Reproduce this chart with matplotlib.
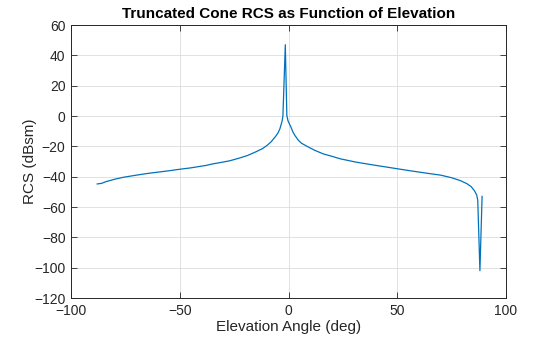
import numpy as np
import matplotlib
matplotlib.use("Agg")
import matplotlib.pyplot as plt

# elevation angle (deg) and RCS (dBsm)
elev = [-88, -86, -84, -80, -76, -70, -65, -60, -55, -50, -45, -42, -38, -35,
        -31, -27, -23, -19, -15, -12, -10, -8, -6, -5, -4, -3, -2.6,
        -1.5,
        -0.8, -0.3, 0, 1, 2, 3, 4.5, 6, 8.5, 12, 16, 20, 24, 31, 39, 47, 55,
        63, 70, 75, 79, 82, 84, 85.5, 86.5, 87, 88, 89]
rcs = [-44.8, -44.4, -43.3, -41.7, -40.4, -39.0, -37.9, -37.0, -36.1, -35.1,
       -34.2, -33.5, -32.6, -31.6, -30.6, -29.5, -27.9, -26.1, -23.6, -21.5,
       -19.5, -17.0, -13.5, -11.5, -8.5, -3.5, 0.0,
       47.0,
       0.5, -3.0, -4.0, -7.0, -10.5, -13.0, -16.0, -18.0, -20.0, -22.6,
       -25.0, -26.6, -28.3, -30.4, -32.3, -34.1, -35.9, -37.6, -39.0, -40.7,
       -42.6, -44.6, -46.6, -49.3, -52.0, -55.5, -102.0, -53.0]

xticks = [-100, -50, 0, 50, 100]
yticks = list(range(-120, 61, 20))

plt.rcParams['font.family'] = ['Liberation Sans', 'DejaVu Sans']
txt = '#262626'

fig = plt.figure(figsize=(5.6, 3.37), dpi=100)
ax = fig.add_axes([0.127, 0.1157, 0.7766, 0.8101])

ax.plot(elev, rcs, color='#0072BD', lw=0.9)

ax.set_xlim(-100, 100)
ax.set_ylim(-120, 60)
ax.set_xticks(xticks)
ax.set_yticks(yticks)
ax.grid(True, color='#dcdcdc', lw=0.6)
ax.set_axisbelow(True)
ax.tick_params(direction='in', length=4, width=0.6, top=True, right=True,
               colors=txt, labelsize=10, pad=4)
for s in ax.spines.values():
    s.set_color(txt)
    s.set_linewidth(0.7)

ax.set_xlabel('Elevation Angle (deg)', fontsize=11, color=txt, labelpad=2)
ax.set_ylabel('RCS (dBsm)', fontsize=11, color=txt, labelpad=-2)
ax.set_title('Truncated Cone RCS as Function of Elevation', fontsize=11,
             fontweight='bold', color='black', pad=5)

fig.savefig('out.png', dpi=100)
